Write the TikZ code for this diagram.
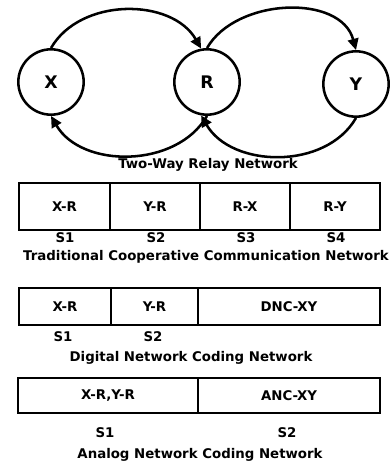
\documentclass[tikz,border=0pt]{standalone}
\usepackage{fontspec}
\setmainfont{DejaVu Sans}
\usetikzlibrary{arrows.meta}

\begin{document}
\begin{tikzpicture}[x=0.75pt, y=-0.75pt,
    font=\bfseries\fontsize{10}{12}\selectfont,
    station/.style={draw, circle, line width=1.9pt, minimum size=49pt, inner sep=0pt,
        font=\bfseries\fontsize{13}{15}\selectfont},
    link/.style={line width=1.9pt, -{Triangle[length=8.5pt, width=8pt]}},
    slot/.style n args={2}{draw, line width=2.1pt, inner sep=0pt, outer sep=0pt,
        anchor=west, minimum width=#1*0.75pt, minimum height=#2*0.75pt}]
    \useasboundingbox (0,0) rectangle (390,466);

    % তিনটি নোড: উৎস X, রিলে R, গন্তব্য Y
    \node[station] (X) at (51,82) {X};
    \node[station] (R) at (207,82) {R};
    \node[station] (Y) at (356,84) {Y};

    % দুই দিকের লিংক
    \draw[link] (X.north) to[out=60, in=120] (R.100);
    \draw[link] (R.north) to[out=60, in=105] (Y.north);
    \draw[link] (R.south) to[out=-120, in=-60] (X.south);
    \draw[link] (Y.south) to[out=-120, in=-60] (R.260);
    \node (cap0) at (208,165) {Two-Way Relay Network};

    % প্রথাগত পদ্ধতি: চারটি স্লট
    \node[slot={91}{47}] (tc1) at (19,206.5) {X-R};
    \node[slot={90}{47}] (tc2) at (tc1.east) {Y-R};
    \node[slot={90}{47}] (tc3) at (tc2.east) {R-X};
    \node[slot={90}{47}] (tc4) at (tc3.east) {R-Y};
    \node at (65,238) {S1};
    \node at (156,238) {S2};
    \node at (246,238) {S3};
    \node at (336,238) {S4};
    \node (cap1) at (206,257) {Traditional Cooperative Communication Network};

    % ডিজিটাল নেটওয়ার্ক কোডিং: তিনটি স্লট
    \node[slot={92}{37}] (dn1) at (19,306.5) {X-R};
    \node[slot={87}{37}] (dn2) at (dn1.east) {Y-R};
    \node[slot={182}{37}] (dn3) at (dn2.east) {DNC-XY};
    \node at (63,337) {S1};
    \node at (153,337) {S2};
    \node (cap2) at (191,358) {Digital Network Coding Network};

    % অ্যানালগ নেটওয়ার্ক কোডিং: দুটি স্লট
    \node[slot={180}{35}] (an1) at (18,395.5) {X-R,Y-R};
    \node[slot={182}{35}] (an2) at (an1.east) {ANC-XY};
    \node at (105,433) {S1};
    \node at (287,433) {S2};
    \node (cap3) at (200,455) {Analog Network Coding Network};
\end{tikzpicture}
\end{document}
